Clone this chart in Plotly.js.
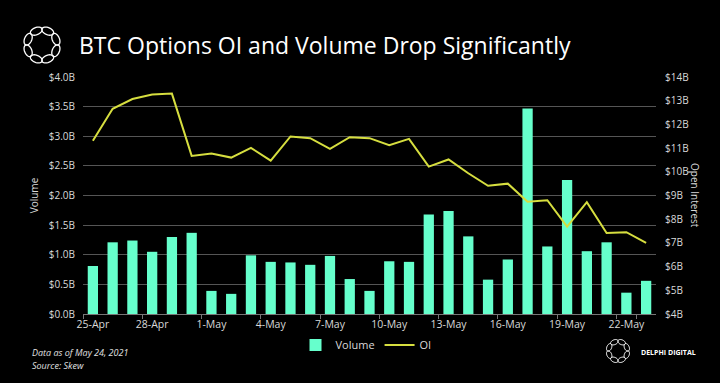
<!DOCTYPE html>
<html>
<head>
<meta charset="utf-8">
<script src="https://cdn.plot.ly/plotly-3.0.1.min.js"></script>
<style>
  html, body { margin:0; padding:0; background:#000; }
  #chart { width:720px; height:383px; }
</style>
</head>
<body>
<div id="chart"></div>
<script>
// ---- data ----
const dates = ["25-Apr","26-Apr","27-Apr","28-Apr","29-Apr","30-Apr",
  "1-May","2-May","3-May","4-May","5-May","6-May","7-May","8-May","9-May",
  "10-May","11-May","12-May","13-May","14-May","15-May","16-May","17-May",
  "18-May","19-May","20-May","21-May","22-May","23-May"];
const volume = [0.81,1.21,1.24,1.05,1.30,1.37,0.39,0.34,0.99,0.88,0.87,0.83,0.98,0.59,0.39,
  0.89,0.88,1.68,1.74,1.31,0.58,0.92,3.47,1.14,2.26,1.06,1.21,0.36,0.56];
const openInterest = [11.31,12.66,13.07,13.26,13.30,10.67,10.77,10.60,11.01,10.47,11.49,11.42,10.97,11.46,11.42,
  11.12,11.39,10.22,10.52,9.94,9.41,9.50,8.74,8.80,7.69,8.72,7.42,7.45,7.00];
const tickLabels = dates.filter((d, i) => i % 3 === 0);

// ---- geometry helpers (plot area in pixels) ----
const W = 720, H = 383;
const M = {l:83, r:64, t:77, b:69};
const PW = W - M.l - M.r, PH = H - M.t - M.b;
const px = x => (x - M.l) / PW;
const py = y => (H - M.b - y) / PH;

const fontMain = "Open Sans, Lato, sans-serif";
const tickCol = "#d9d9d9";

// decorative logo: ring of 8 interlinked ovals
function logoShapes(cx, cy, R, a, b, w) {
  const s = [];
  for (let k = 0; k < 8; k++) {
    const ang = k * Math.PI / 4 + Math.PI / 8;
    const ex = cx + R * Math.cos(ang), ey = cy + R * Math.sin(ang);
    const tx = -Math.sin(ang), ty = Math.cos(ang);   // tangent
    const rx = Math.cos(ang), ry = Math.sin(ang);    // radial
    let d = "";
    for (let j = 0; j <= 32; j++) {
      const t = j / 32 * 2 * Math.PI;
      const X = ex + a * Math.cos(t) * tx + b * Math.sin(t) * rx;
      const Y = ey + a * Math.cos(t) * ty + b * Math.sin(t) * ry;
      d += (j === 0 ? "M" : "L") + px(X).toFixed(5) + "," + py(Y).toFixed(5);
    }
    d += "Z";
    s.push({type:"path", xref:"paper", yref:"paper", path:d,
      line:{color:"#ffffff", width:w}, fillcolor:"rgba(0,0,0,0)", layer:"above"});
  }
  return s;
}

const traces = [
  {type:"bar", name:"Volume", x:dates, y:volume, marker:{color:"#66ffcc"}, yaxis:"y"},
  {type:"scatter", mode:"lines", name:"OI", x:dates, y:openInterest, yaxis:"y2",
   line:{color:"#d6de3f", width:2}}
];

const layout = {
  width:W, height:H,
  paper_bgcolor:"#000", plot_bgcolor:"#000",
  margin:M,
  showlegend:true,
  font:{family:fontMain, color:tickCol, size:10},
  title:{text:"BTC Options OI and Volume Drop Significantly",
    x:79/W, xanchor:"left", xref:"container", y:1-46/H, yanchor:"middle", yref:"container",
    font:{family:fontMain, size:23, color:"#ffffff"}},
  bargap:0.48,
  xaxis:{type:"category", tickmode:"array", tickvals:tickLabels, ticktext:tickLabels,
    tickson:"boundaries", ticks:"outside", ticklen:4, tickcolor:"#777", tickangle:0,
    showline:true, linecolor:"#777", linewidth:1, showgrid:false,
    tickfont:{size:10.5, color:tickCol}, range:[-0.5, 28.5]},
  yaxis:{range:[0,4], dtick:0.5, tickformat:".1f", tickprefix:"$", ticksuffix:"B",
    showgrid:true, gridcolor:"#555", gridwidth:1, zeroline:false,
    tickfont:{size:10, color:tickCol}, ticks:"", ticklabelstandoff:7,
    title:{text:"Volume", font:{size:10, color:tickCol}, standoff:8}},
  yaxis2:{overlaying:"y", side:"right", range:[4,14], dtick:1, tickprefix:"$", ticksuffix:"B",
    showgrid:false, zeroline:false, tickfont:{size:10, color:tickCol}, ticklabelstandoff:8},
  legend:{orientation:"h", x:px(366), xanchor:"center", y:py(345), yanchor:"middle",
    font:{size:11, color:tickCol}, bgcolor:"rgba(0,0,0,0)", itemwidth:30, tracegroupgap:0},
  annotations:[
    {text:"Open Interest", xref:"paper", yref:"paper", x:px(695), y:py(195), textangle:90,
     showarrow:false, font:{size:10, color:tickCol}, xanchor:"center", yanchor:"middle"},
    {text:"<i>Data as of May 24, 2021</i>", xref:"paper", yref:"paper", x:px(30), y:py(352),
     showarrow:false, xanchor:"left", yanchor:"middle", font:{size:9, color:"#e0e0e0"}},
    {text:"<i>Source: Skew</i>", xref:"paper", yref:"paper", x:px(30), y:py(365),
     showarrow:false, xanchor:"left", yanchor:"middle", font:{size:9, color:"#e0e0e0"}},
    {text:"<b>DELPHI DIGITAL</b>", xref:"paper", yref:"paper", x:px(639), y:py(352),
     showarrow:false, xanchor:"left", yanchor:"middle", font:{size:7, color:"#ffffff"}}
  ],
  shapes:[].concat(logoShapes(42, 45, 15, 6.2, 3.6, 1.3), logoShapes(618, 351, 9.5, 4, 2.4, 1))
};

Plotly.newPlot("chart", traces, layout, {displayModeBar:false, staticPlot:true});
</script>
</body>
</html>
